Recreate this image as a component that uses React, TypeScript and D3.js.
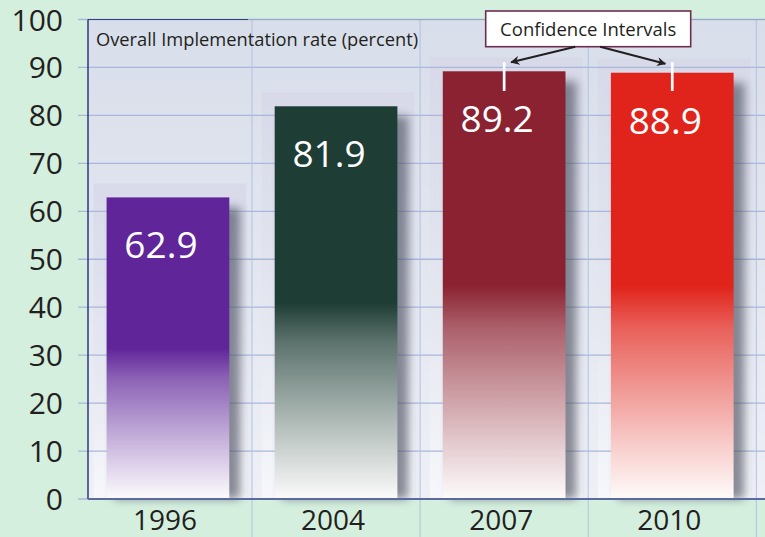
import React from "react";
import * as d3 from "d3";

const years = ["1996", "2004", "2007", "2010"];
const rates = [62.9, 81.9, 89.2, 88.9];
const barColors = ["#5f2599", "#1e3d34", "#8b2231", "#e0241b"];
const ciHigh = [null, null, 91.1, 91.1];
const ciLow = [null, null, 85.1, 85.1];
const yTicks = [0, 10, 20, 30, 40, 50, 60, 70, 80, 90, 100];
const titleText = "Overall Implementation rate (percent)";
const calloutText = "Confidence Intervals";

const W = 765;
const H = 537;
const FONT = "'Open Sans', 'Noto Sans', sans-serif";

export default function App() {
  const y = d3.scaleLinear().domain([0, 100]).range([499, 19.5]);
  const x = d3
    .scaleBand<string>()
    .domain(years)
    .range([83.9, 756.3])
    .paddingInner(0.27)
    .paddingOuter(0.135);
  const bw = x.bandwidth();
  const step = x.step();
  const plotLeft = 88;
  const fadeStops = [
    [0, 0],
    [0.5, 0],
    [0.6, 0.28],
    [0.75, 0.55],
    [0.88, 0.78],
    [1, 0.98],
  ];

  const ciIdx = years.map((_, i) => i).filter((i) => ciHigh[i] != null);
  const boxCx = ((x(years[ciIdx[0]])! + bw / 2) + (x(years[ciIdx[ciIdx.length - 1]])! + bw / 2)) / 2;
  const boxW = 205;
  const boxTop = 11;
  const boxH = 35.7;

  return (
    <svg
      width={W}
      height={H}
      style={{ position: "absolute", left: 0, top: 0, display: "block" }}
      fontFamily={FONT}
    >
      <defs>
        <linearGradient id="plotBg" x1="0" y1="0" x2="0" y2="1">
          <stop offset="0" stopColor="#d8deea" />
          <stop offset="0.5" stopColor="#e2e6ef" />
          <stop offset="1" stopColor="#eef0f6" />
        </linearGradient>
        <linearGradient id="halo" x1="0" y1="0" x2="0" y2="1">
          <stop offset="0" stopColor="#d6d6e8" />
          <stop offset="0.6" stopColor="#e6e7f1" />
          <stop offset="1" stopColor="#fbfbfd" />
        </linearGradient>
        <filter id="blur" x="-50%" y="-20%" width="200%" height="140%">
          <feGaussianBlur stdDeviation="5" />
        </filter>
        {barColors.map((c, i) => (
          <linearGradient key={i} id={`bar${i}`} x1="0" y1="0" x2="0" y2="1">
            {fadeStops.map(([o, t], j) => (
              <stop key={j} offset={o} stopColor={d3.interpolateRgb(c, "#ffffff")(t)} />
            ))}
          </linearGradient>
        ))}
        <marker
          id="arrow"
          viewBox="0 0 10 10"
          refX="9"
          refY="5"
          markerWidth="9"
          markerHeight="9"
          markerUnits="userSpaceOnUse"
          orient="auto"
        >
          <path d="M0,0 L10,5 L0,10 L3,5 Z" fill="#231f20" />
        </marker>
      </defs>

      <rect x={0} y={0} width={W} height={H} fill="#d5efdf" />

      <rect x={plotLeft} y={y(100)} width={W - plotLeft} height={y(0) - y(100)} fill="url(#plotBg)" />

      {years.map((yr, i) => (
        <rect
          key={`h${i}`}
          x={x(yr)! - 13}
          y={y(rates[i]) - 14}
          width={bw + 30}
          height={y(0) - y(rates[i]) + 14}
          fill="url(#halo)"
          opacity={0.7}
        />
      ))}

      {yTicks.map((t) => (
        <line
          key={`g${t}`}
          x1={78}
          x2={W}
          y1={y(t)}
          y2={y(t)}
          stroke="#a9b7da"
          strokeWidth={1.3}
        />
      ))}

      {years.map((yr, i) => {
        const gx = x(yr)! + bw + (step - bw) / 2;
        return (
          <line
            key={`v${i}`}
            x1={gx}
            x2={gx}
            y1={y(100)}
            y2={H}
            stroke="#b3c0e0"
            strokeWidth={1}
          />
        );
      })}

      {years.map((yr, i) => (
        <rect
          key={`s${i}`}
          x={x(yr)! + 7}
          y={y(rates[i]) + 10}
          width={bw + 4}
          height={y(0) - y(rates[i]) - 10}
          fill="#4e5160"
          opacity={0.65}
          filter="url(#blur)"
        />
      ))}

      {years.map((yr, i) => (
        <rect
          key={`b${i}`}
          x={x(yr)!}
          y={y(rates[i])}
          width={bw}
          height={y(0) - y(rates[i])}
          fill={`url(#bar${i})`}
        />
      ))}

      {years.map((yr, i) => (
        <text
          key={`l${i}`}
          x={x(yr)! + bw / 2 - 7}
          y={y(rates[i]) + 61}
          textAnchor="middle"
          fill="#ffffff"
          fontSize={37}
        >
          {rates[i].toFixed(1)}
        </text>
      ))}

      {years.map((yr, i) =>
        ciHigh[i] != null && ciLow[i] != null ? (
          <line
            key={`ci${i}`}
            x1={x(yr)! + bw / 2}
            x2={x(yr)! + bw / 2}
            y1={y(ciHigh[i] as number)}
            y2={y(ciLow[i] as number)}
            stroke="#ffffff"
            strokeWidth={2.7}
          />
        ) : null
      )}

      <line x1={plotLeft} x2={W} y1={y(100)} y2={y(100)} stroke="#9aa6cc" strokeWidth={1.2} />
      <line x1={plotLeft} x2={plotLeft + 160} y1={y(100)} y2={y(100)} stroke="#34437f" strokeWidth={1.2} />
      <line x1={plotLeft} x2={plotLeft} y1={y(100)} y2={y(0)} stroke="#2b3a7a" strokeWidth={1.5} />
      <line x1={plotLeft} x2={W} y1={y(0)} y2={y(0)} stroke="#5b6aa0" strokeWidth={2} />

      {yTicks.map((t) => (
        <text
          key={`yt${t}`}
          x={63}
          y={y(t) + 11}
          textAnchor="end"
          fill="#231f20"
          fontSize={30}
        >
          {t}
        </text>
      ))}

      {years.map((yr) => (
        <text
          key={`xl${yr}`}
          x={x(yr)! + bw / 2 - 3}
          y={530}
          textAnchor="middle"
          fill="#231f20"
          fontSize={28}
        >
          {yr}
        </text>
      ))}

      <text x={96} y={45.5} fill="#231f20" fontSize={18.3}>
        {titleText}
      </text>

      <rect
        x={boxCx - boxW / 2}
        y={boxTop}
        width={boxW}
        height={boxH}
        fill="#ffffff"
        stroke="#6e2c4f"
        strokeWidth={1.6}
      />
      <text
        x={boxCx}
        y={boxTop + 25}
        textAnchor="middle"
        fill="#231f20"
        fontSize={18.5}
      >
        {calloutText}
      </text>
      {ciIdx.map((i, k) => {
        const cx = x(years[i])! + bw / 2;
        const sx = boxCx + (k === 0 ? -13 : 12);
        return (
          <line
            key={`ar${i}`}
            x1={sx}
            y1={boxTop + boxH}
            x2={cx + (k === 0 ? 7 : -7)}
            y2={y(ciHigh[i] as number) + (k === 0 ? 0 : 1.5)}
            stroke="#231f20"
            strokeWidth={2}
            markerEnd="url(#arrow)"
          />
        );
      })}
    </svg>
  );
}
